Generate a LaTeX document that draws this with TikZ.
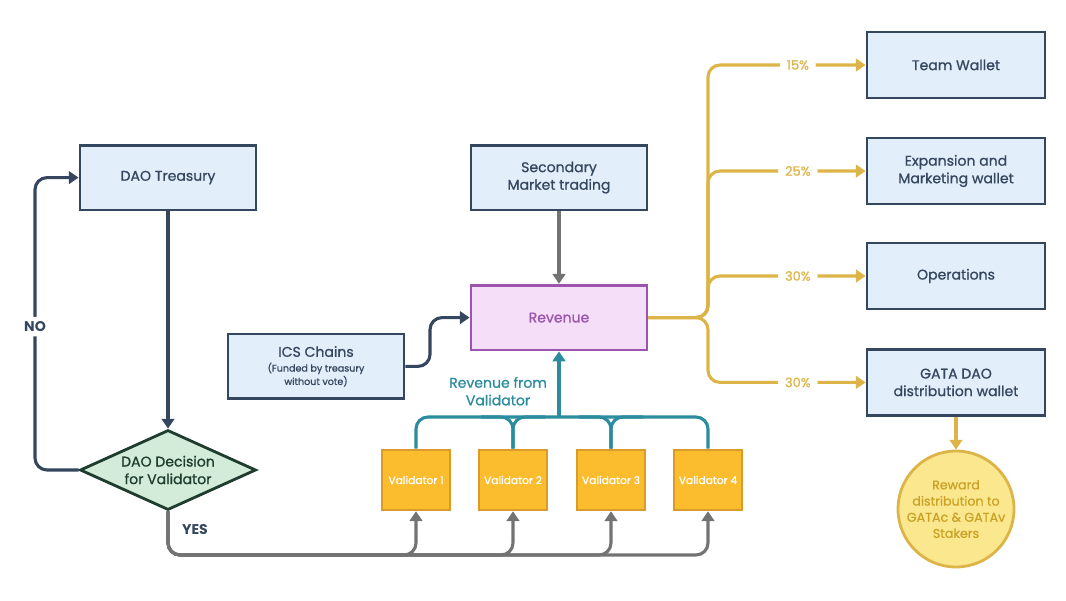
\documentclass[tikz,border=0pt]{standalone}
\usepackage{fontspec}
\setmainfont{Poppins}[UprightFeatures={FakeBold=0.9}]
\usepackage{tikz}
\usetikzlibrary{
  positioning, shapes, shapes.geometric,
  arrows, arrows.meta, calc
}
\definecolor{navy}{HTML}{34475E}
\definecolor{boxfill}{HTML}{E3EEFB}
\definecolor{revfill}{HTML}{F5DEF8}
\definecolor{revline}{HTML}{9B55AE}
\definecolor{decfill}{HTML}{D3ECD9}
\definecolor{decline}{HTML}{1F3D2E}
\definecolor{valfill}{HTML}{FBBC2E}
\definecolor{valline}{HTML}{D99B2A}
\definecolor{gold}{HTML}{DDB447}
\definecolor{goldfill}{HTML}{FBE88E}
\definecolor{goldtext}{HTML}{C9A227}
\definecolor{tealline}{HTML}{2A8C9E}
\definecolor{greyline}{HTML}{737373}
\newcommand{\boxfont}{\fontsize{10}{12.5}\selectfont}
\tikzset{
  block/.style={
    draw=navy, fill=boxfill, line width=2pt,
    minimum width=4.4cm, minimum height=1.62cm,
    align=center, text=navy, font=\boxfont
  },
  wallet/.style={
    block, minimum width=4.45cm, minimum height=1.65cm
  },
  revbox/.style={
    block, draw=revline, fill=revfill, text=revline
  },
  decision/.style={
    diamond, draw=decline, fill=decfill, line width=2pt,
    minimum width=4.4cm, minimum height=2cm, inner sep=0pt,
    aspect=2.2, align=center, text=decline, font=\boxfont
  },
  validator/.style={
    draw=valline, fill=valfill, line width=1.8pt,
    minimum width=1.7cm, minimum height=1.5cm,
    align=center, text=white, font=\fontsize{7.6}{9}\selectfont
  },
  reward/.style={
    circle, draw=gold, fill=goldfill, line width=2pt,
    minimum size=2.9cm, inner sep=0pt,
    align=center, text=goldtext, font=\fontsize{9}{11.5}\selectfont
  },
  tip/.style={-{Triangle[length=7pt,width=9pt]}},
  link/.style={tip, line width=2.2pt, rounded corners=0.3cm},
  bus/.style={line width=2.2pt, rounded corners=0.3cm},
  pct/.style={fill=white, text=gold, font=\fontsize{9.2}{11}\selectfont, inner xsep=5pt},
  answer/.style={font=\boxfont\bfseries, text=navy}
}

\begin{document}
\begin{tikzpicture}
\useasboundingbox (0,0) rectangle (26.65,-15);

%% ── Left: treasury and decision ─────────────────────────────
\node[block] (treasury) at (4.2,-4.44) {DAO Treasury};
\node[decision] (decide) at (4.2,-11.75) {DAO Decision\\for Validator};

\draw[link, navy] (treasury.south) -- (decide.north);
\coordinate (noline) at (0.875,0);
\draw[link, navy] (decide.west) -- (decide.west -| noline)
  -- node[answer, fill=white, pos=0.49]{NO} (treasury.west -| noline)
  -- (treasury.west);

%% ── Middle: sources of revenue ──────────────────────────────
\node[block] (market) at (13.975,-4.44) {Secondary\\Market trading};
\node[revbox] (revenue) at (13.975,-7.94) {Revenue};
\node[block] (ics) at (7.9,-9.16)
  {ICS Chains\\[-2pt]{\fontsize{6.8}{7.5}\selectfont(Funded by treasury}\\[-3pt]{\fontsize{6.8}{7.5}\selectfont without vote)}};

\draw[link, greyline] (market.south) -- (revenue.north);
\coordinate (icsturn) at (10.75,0);
\draw[link, navy] (ics.east) -- (ics.east -| icsturn) -- (revenue.west -| icsturn) -- (revenue.west);

%% ── Validators ──────────────────────────────────────────────
\node[validator] (v1) at (10.4,-12) {Validator 1};
\node[validator] (v2) at (12.825,-12) {Validator 2};
\node[validator] (v3) at (15.275,-12) {Validator 3};
\node[validator] (v4) at (17.7,-12) {Validator 4};

\coordinate (tbus) at (0,-10.425);
\draw[bus, tealline] (v1.north) |- (v4.north |- tbus) -- (v4.north);
\foreach \v in {2,3} {
  \draw[bus, tealline] (v\v.north) |- ($(v\v.north |- tbus)+(-0.8,0)$);
  \draw[bus, tealline] (v\v.north) |- ($(v\v.north |- tbus)+(0.8,0)$);
}
\draw[link, tealline] (revenue.south |- tbus) -- (revenue.south);
\node[text=tealline, font=\boxfont, align=center] (fromval) at (12.45,-9.78) {Revenue from\\Validator};

\coordinate (gbus) at (0,-13.875);
\foreach \v in {1,...,4} {
  \draw[link, greyline] (decide.south) -- (decide.south |- gbus) -- (v\v.south |- gbus) -- (v\v.south);
}
\node[answer] (yes) at (4.875,-13.25) {YES};

%% ── Right: distribution ─────────────────────────────────────
\node[wallet] (team) at (23.9,-1.625) {Team Wallet};
\node[wallet] (expand) at (23.9,-4.275) {Expansion and\\Marketing wallet};
\node[wallet] (ops) at (23.9,-6.9) {Operations};
\node[wallet] (gata) at (23.9,-9.56) {GATA DAO\\distribution wallet};
\node[reward] (stakers) at (23.9,-12.725)
  {Reward\\distribution to\\GATAc \& GATAv\\Stakers};

\coordinate (trunk) at (17.7,0);
\foreach \w/\p in {team/15, expand/25, ops/30, gata/30} {
  \draw[link, gold] (revenue.east) -- (revenue.east -| trunk) -- (\w.west -| trunk)
    -- node[pct, pos=0.57]{\p\%} (\w.west);
}
\draw[link, gold] (gata.south) -- (stakers.north);

\end{tikzpicture}
\end{document}
